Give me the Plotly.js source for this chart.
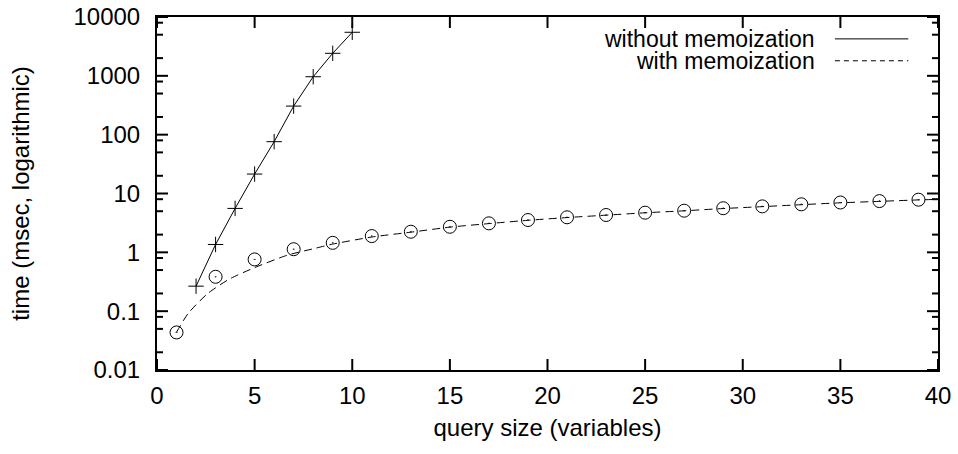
<!DOCTYPE html>
<html>
<head>
<meta charset="utf-8">
<script src="https://cdn.plot.ly/plotly-3.0.1.min.js"></script>
<style>
  html, body { margin: 0; padding: 0; background: #fff; }
  #chart { width: 958px; height: 454px; }
</style>
</head>
<body>
<div id="chart"></div>
<script>
// ---- data ----
const seriesNames = ["without memoization", "with memoization"];

// without memoization (+ markers, solid line)
const xWithout = [2, 3, 4, 5, 6, 7, 8, 9, 10];
const yWithout = [0.266, 1.36, 5.58, 21.4, 76, 306, 966, 2415, 5500];

// with memoization (circle markers)
const xWith = [1, 3, 5, 7, 9, 11, 13, 15, 17, 19, 21, 23, 25, 27, 29, 31, 33, 35, 37, 39];
const yWith = [0.0435, 0.384, 0.758, 1.13, 1.45, 1.89, 2.24, 2.72, 3.11, 3.54,
               3.94, 4.31, 4.72, 5.1, 5.62, 6.04, 6.55, 7.03, 7.43, 7.85];

// with memoization, fitted dashed curve
const xWithCurve = [1, 1.6, 2.6, 3.7, 5, 6.7, 8.1, 9, 11, 13, 15, 17, 19, 21, 23, 25, 27, 29, 31, 33, 35, 37, 39, 39.7];
const yWithCurve = [0.044, 0.092, 0.2, 0.35, 0.55, 0.9, 1.17, 1.38, 1.82, 2.2, 2.68, 3.08,
                    3.5, 3.9, 4.28, 4.7, 5.08, 5.55, 5.98, 6.45, 6.95, 7.35, 7.78, 7.9];

// axis ticks
const xTickVals = [0, 5, 10, 15, 20, 25, 30, 35, 40];
const yTickVals = [0.01, 0.1, 1, 10, 100, 1000, 10000];
const yTickText = ["0.01", "0.1", "1", "10", "100", "1000", "10000"];
const yMinorVals = [0.02, 0.05, 0.08, 0.2, 0.5, 0.8, 2, 5, 8, 20, 50, 80, 200, 500, 800, 2000, 5000, 8000];

const FONT = "'Liberation Sans', Arial, Helvetica, sans-serif";
const FS = 24;
const axisFont = { family: FONT, size: FS, color: "#000" };

const traces = [
  {
    name: seriesNames[0],
    x: xWithout, y: yWithout,
    type: "scatter", mode: "lines+markers",
    line: { color: "#000", width: 1 },
    marker: { symbol: "cross-thin-open", size: 11, color: "#000", line: { color: "#000", width: 1 } },
    showlegend: false
  },
  {
    name: seriesNames[1] + " (fit)",
    x: xWithCurve, y: yWithCurve,
    type: "scatter", mode: "lines",
    line: { color: "#000", width: 1, dash: "8px,5px", shape: "spline", smoothing: 0.6 },
    showlegend: false
  },
  {
    name: seriesNames[1],
    x: xWith, y: yWith,
    type: "scatter", mode: "markers",
    marker: { symbol: "circle-open-dot", size: 13, color: "#000", line: { color: "#000", width: 1 } },
    showlegend: false
  }
];

// inward tick marks, placed through the axes' own scales (x data / y data values)
const PLOT_W = 958 - 157 - 20, PLOT_H = 454 - 17 - 84;
const MAJ = 11, MIN = 6;
const tickLine = { color: "#000", width: 2 };
const tickShapes = [];
xTickVals.forEach(function (v) {
  tickShapes.push({ type: "line", xref: "x", yref: "paper", x0: v, x1: v, y0: 0, y1: MAJ / PLOT_H, line: tickLine });
  tickShapes.push({ type: "line", xref: "x", yref: "paper", x0: v, x1: v, y0: 1, y1: 1 - MAJ / PLOT_H, line: tickLine });
});
yTickVals.forEach(function (v) {
  tickShapes.push({ type: "line", xref: "paper", yref: "y", y0: v, y1: v, x0: 0, x1: MAJ / PLOT_W, line: tickLine });
  tickShapes.push({ type: "line", xref: "paper", yref: "y", y0: v, y1: v, x0: 1, x1: 1 - MAJ / PLOT_W, line: tickLine });
});
yMinorVals.forEach(function (v) {
  tickShapes.push({ type: "line", xref: "paper", yref: "y", y0: v, y1: v, x0: 0, x1: MIN / PLOT_W, line: tickLine });
  tickShapes.push({ type: "line", xref: "paper", yref: "y", y0: v, y1: v, x0: 1, x1: 1 - MIN / PLOT_W, line: tickLine });
});

const layout = {
  width: 958, height: 454,
  margin: { l: 157, r: 20, t: 17, b: 84 },
  paper_bgcolor: "#fff", plot_bgcolor: "#fff",
  font: axisFont,
  showlegend: false,
  xaxis: {
    range: [0, 40],
    tickmode: "array", tickvals: xTickVals,
    ticks: "",
    showline: true, linecolor: "#000", linewidth: 2, mirror: true,
    showgrid: false, zeroline: false,
    ticklabelstandoff: 3,
    tickfont: axisFont,
    title: { text: "query size (variables)", font: axisFont, standoff: 11 }
  },
  yaxis: {
    type: "log",
    range: [-2, 4],
    tickmode: "array", tickvals: yTickVals, ticktext: yTickText,
    ticks: "",
    showline: true, linecolor: "#000", linewidth: 2, mirror: true,
    showgrid: false, zeroline: false,
    ticklabelstandoff: 10,
    tickfont: axisFont,
    title: { text: "time (msec, logarithmic)", font: axisFont, standoff: 37 }
  },
  annotations: [
    { xref: "paper", yref: "paper", x: 0.845, y: 0.938, xanchor: "right", yanchor: "middle",
      text: seriesNames[0], showarrow: false, font: { family: FONT, size: 23, color: "#000" } },
    { xref: "paper", yref: "paper", x: 0.845, y: 0.876, xanchor: "right", yanchor: "middle",
      text: seriesNames[1], showarrow: false, font: { family: FONT, size: 23, color: "#000" } }
  ],
  shapes: tickShapes.concat([
    { type: "line", xref: "paper", yref: "paper", x0: 0.868, x1: 0.962, y0: 0.938, y1: 0.938,
      line: { color: "#000", width: 1 } },
    { type: "line", xref: "paper", yref: "paper", x0: 0.868, x1: 0.962, y0: 0.876, y1: 0.876,
      line: { color: "#000", width: 1, dash: "5px,4px" } }
  ])
};

Plotly.newPlot("chart", traces, layout, { displayModeBar: false, staticPlot: true });
</script>
</body>
</html>
